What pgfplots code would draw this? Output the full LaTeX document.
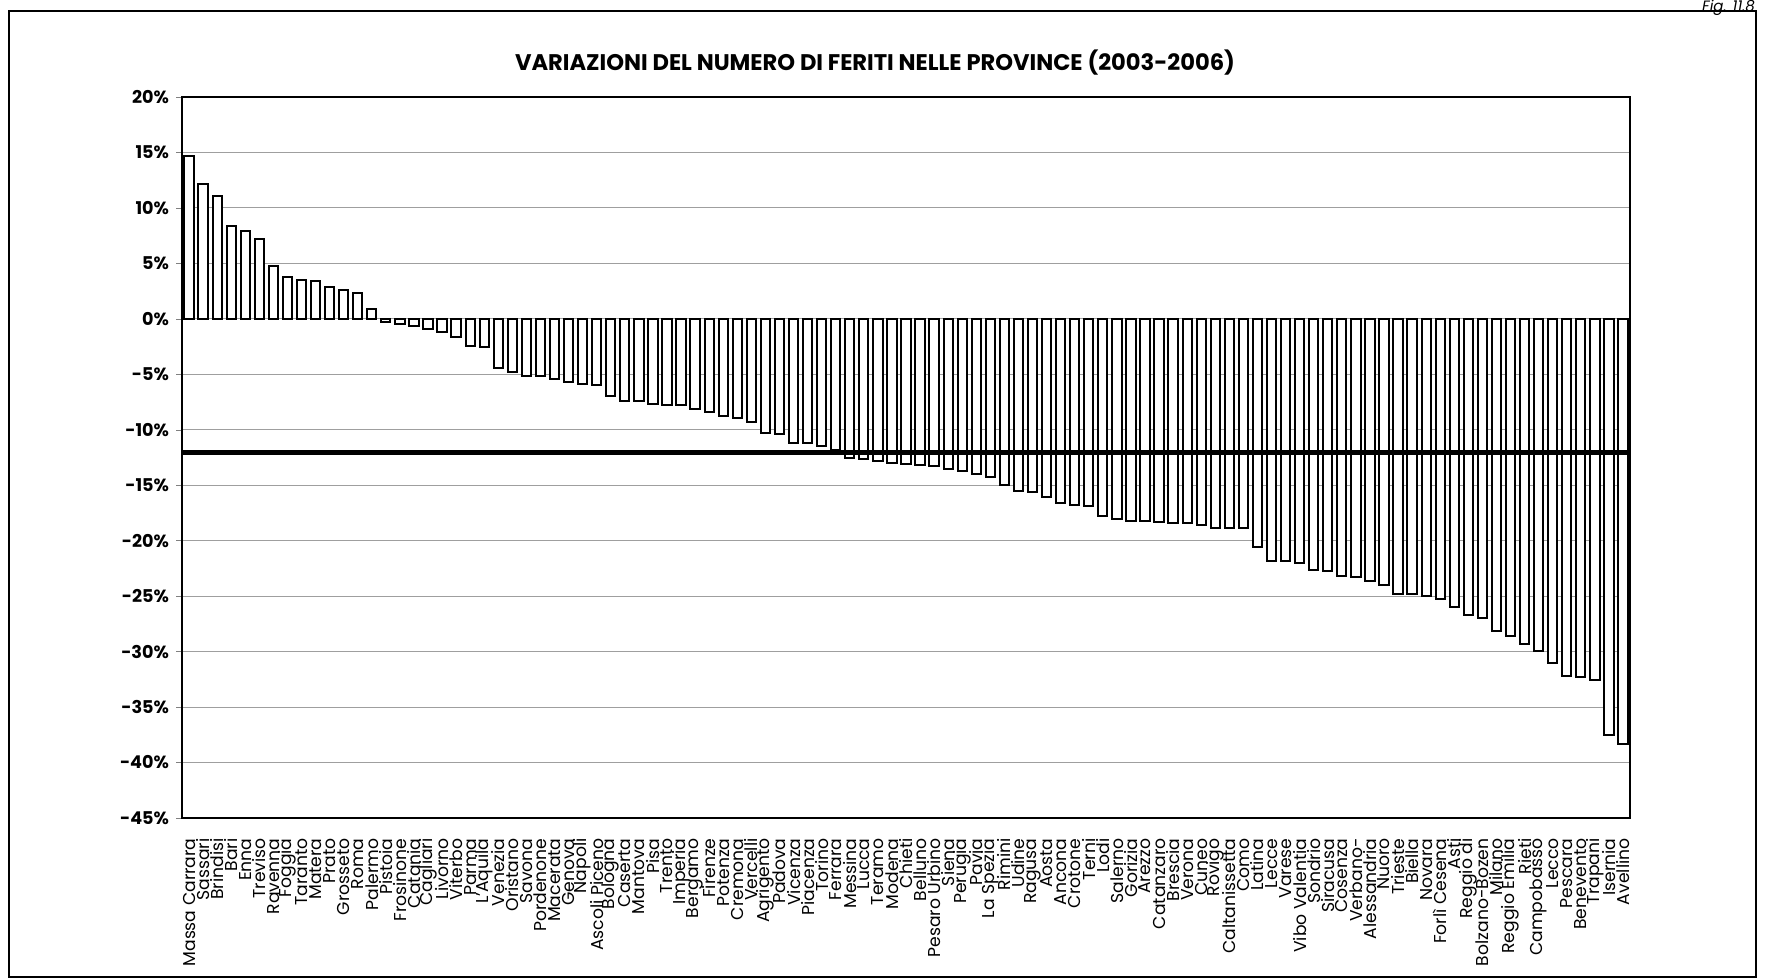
\documentclass[border=0pt]{standalone}
\usepackage{fontspec}
\setmainfont{Poppins}
\usepackage{pgfplots}
\pgfplotsset{compat=1.18}
\begin{document}
\begin{tikzpicture}
\useasboundingbox (-91pt,-80pt) rectangle (791.5pt,409pt);
\draw[line width=0.8pt] (-86.5pt,-79.5pt) rectangle (787pt,403.5pt);
\node[anchor=base east, font=\itshape\fontsize{7.5}{8}\selectfont] at (790pt,403.2pt) {Fig. 11.8};
\node[font=\bfseries\fontsize{11.3}{13}\selectfont] at (346.5pt,377.5pt) {VARIAZIONI DEL NUMERO DI FERITI NELLE PROVINCE (2003-2006)};
\begin{axis}[
  at={(0,0)}, anchor=south west,
  scale only axis, width=724pt, height=360.5pt,
  xmin=-0.5, xmax=102.5, ymin=-45, ymax=20,
  ytick={-45,-40,...,20},
  yticklabels={-45\%,-40\%,-35\%,-30\%,-25\%,-20\%,-15\%,-10\%,-5\%,0\%,5\%,10\%,15\%,20\%},
  yticklabel style={font=\bfseries\fontsize{8.8}{10}\selectfont},
  ymajorgrids, grid style={gray!75, line width=0.5pt},
  tick align=outside, major tick length=3pt,
  ytick pos=left,
  xtick={0,...,102},
  xtick style={draw=none},
  xticklabels={Massa Carrara,Sassari,Brindisi,Bari,Enna,Treviso,Ravenna,Foggia,Taranto,Matera,Prato,Grosseto,Roma,Palermo,Pistoia,Frosinone,Catania,Cagliari,Livorno,Viterbo,Parma,L'Aquila,Venezia,Oristano,Savona,Pordenone,Macerata,Genova,Napoli,Ascoli Piceno,Bologna,Caserta,Mantova,Pisa,Trento,Imperia,Bergamo,Firenze,Potenza,Cremona,Vercelli,Agrigento,Padova,Vicenza,Piacenza,Torino,Ferrara,Messina,Lucca,Teramo,Modena,Chieti,Belluno,Pesaro Urbino,Siena,Perugia,Pavia,La Spezia,Rimini,Udine,Ragusa,Aosta,Ancona,Crotone,Terni,Lodi,Salerno,Gorizia,Arezzo,Catanzaro,Brescia,Verona,Cuneo,Rovigo,Caltanissetta,Como,Latina,Lecce,Varese,Vibo Valentia,Sondrio,Siracusa,Cosenza,Verbano-,Alessandria,Nuoro,Trieste,Biella,Novara,Forlì Cesena,Asti,Reggio di,Bolzano-Bozen,Milano,Reggio Emilia,Rieti,Campobasso,Lecco,Pescara,Benevento,Trapani,Isernia,Avellino},
  xticklabel style={rotate=90, anchor=east, inner sep=0pt, xshift=-7pt, font=\fontsize{8.6}{9}\selectfont},
  axis line style={black, line width=0.7pt},
]
\addplot[ybar, bar width=0.66, fill=white, draw=black, line width=1pt] coordinates {
(0,14.7) (1,12.2) (2,11.05) (3,8.4) (4,7.9) (5,7.2) (6,4.8) (7,3.8) (8,3.5) (9,3.4)
(10,2.85) (11,2.6) (12,2.3) (13,0.9) (14,-0.25) (15,-0.5) (16,-0.65) (17,-0.9) (18,-1.2) (19,-1.6)
(20,-2.45) (21,-2.5) (22,-4.4) (23,-4.75) (24,-5.15) (25,-5.15) (26,-5.45) (27,-5.65) (28,-5.9) (29,-6.0)
(30,-7.0) (31,-7.4) (32,-7.45) (33,-7.7) (34,-7.8) (35,-7.8) (36,-8.15) (37,-8.4) (38,-8.8) (39,-8.9)
(40,-9.3) (41,-10.3) (42,-10.4) (43,-11.2) (44,-11.2) (45,-11.45) (46,-11.8) (47,-12.55) (48,-12.6) (49,-12.85)
(50,-13.0) (51,-13.1) (52,-13.15) (53,-13.3) (54,-13.5) (55,-13.7) (56,-14.0) (57,-14.25) (58,-15.0) (59,-15.5)
(60,-15.6) (61,-16.1) (62,-16.6) (63,-16.8) (64,-16.9) (65,-17.75) (66,-18.0) (67,-18.2) (68,-18.25) (69,-18.3)
(70,-18.45) (71,-18.4) (72,-18.6) (73,-18.9) (74,-18.9) (75,-18.9) (76,-20.6) (77,-21.8) (78,-21.8) (79,-22.0)
(80,-22.6) (81,-22.75) (82,-23.15) (83,-23.3) (84,-23.65) (85,-23.95) (86,-24.8) (87,-24.8) (88,-25.0) (89,-25.3)
(90,-26.0) (91,-26.7) (92,-27.0) (93,-28.1) (94,-28.6) (95,-29.3) (96,-29.9) (97,-31.0) (98,-32.2) (99,-32.3)
(100,-32.6) (101,-37.5) (102,-38.3)
};
\addplot[black, line width=2.3pt] coordinates {(-0.4,-12.05) (102.4,-12.05)};
\end{axis}
\end{tikzpicture}
\end{document}
